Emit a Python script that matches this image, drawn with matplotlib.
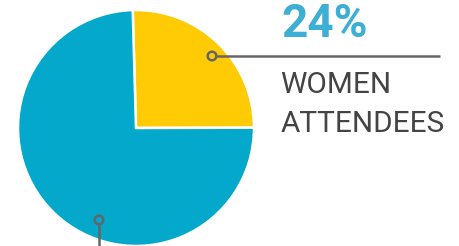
import matplotlib
matplotlib.use("Agg")
import matplotlib.pyplot as plt
from matplotlib.patches import Circle

categories = ["Women attendees", "Other attendees"]
shares = [25.4, 74.6]
label_pct = "24%"
label_lines = ["WOMEN", "ATTENDEES"]
colors = ["#fecb05", "#03a8cb"]

W, H = 459, 246
fig = plt.figure(figsize=(W / 100, H / 100), dpi=100)
ax = fig.add_axes([0, 0, 1, 1])
ax.set_xlim(0, W)
ax.set_ylim(0, H)

cx, cy, r = 136, 118, 118
ax.pie(shares, colors=colors, startangle=91.6, counterclock=False,
       center=(cx, cy), radius=r, frame=True,
       wedgeprops=dict(edgecolor="white", linewidth=1.8))
ax.set_xlim(0, W)
ax.set_ylim(0, H)
ax.set_aspect("equal")
ax.axis("off")

gray = "#666666"
# yellow marker and leader
ax.plot([216, 440], [190, 190], color=gray, lw=1.8, solid_capstyle="butt", zorder=3)
ax.add_patch(Circle((212, 190), 4.3, facecolor=colors[0], edgecolor=gray, lw=1.8, zorder=4))
# blue marker and leader
ax.plot([99, 99], [21.5, 0], color=gray, lw=1.8, solid_capstyle="butt", zorder=3)
ax.add_patch(Circle((99, 26), 4.3, facecolor=colors[1], edgecolor=gray, lw=1.8, zorder=4))

ax.text(281, 208.7, label_pct, fontfamily="Roboto", fontweight="bold",
        fontsize=33, color="#3daed4", va="baseline", ha="left")
ax.text(280.5, 152.7, label_lines[0], fontfamily="Roboto", fontsize=21.4,
        color="#444444", va="baseline", ha="left")
ax.text(280.5, 114.3, label_lines[1], fontfamily="Roboto", fontsize=21.4,
        color="#444444", va="baseline", ha="left")

fig.savefig("out.png", dpi=100)
